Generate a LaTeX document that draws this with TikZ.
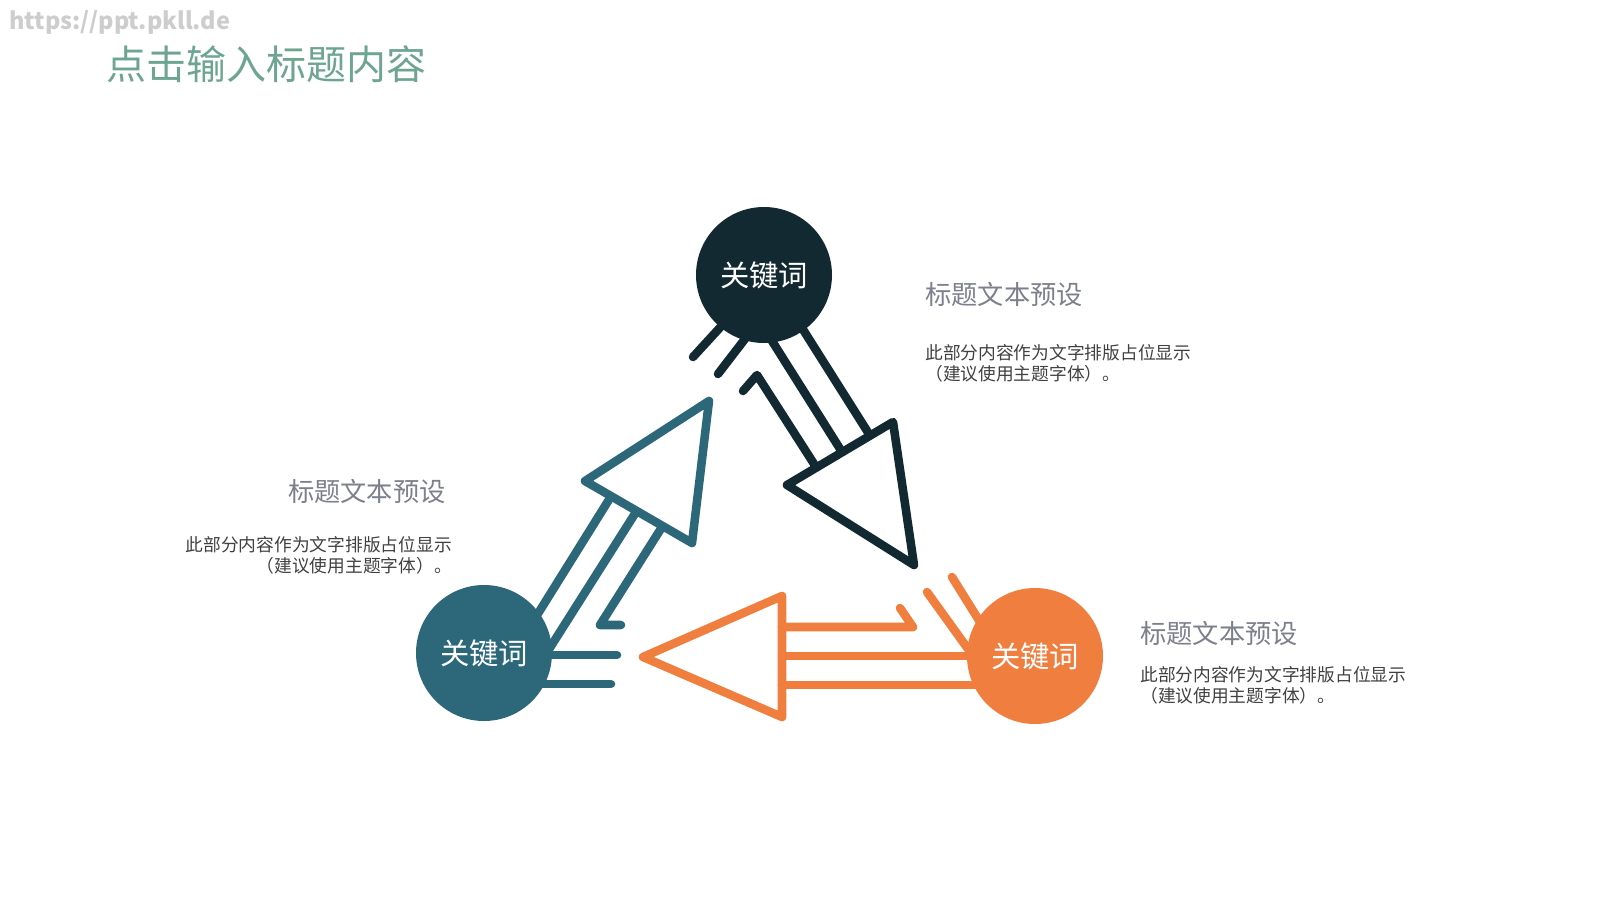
\documentclass[tikz,border=0pt]{standalone}
\usepackage{fontspec}
\newfontfamily\cjk{Noto Sans CJK SC}
\usepackage{tikz}

\begin{document}
\begin{tikzpicture}[x=0.75pt,y=0.75pt,yscale=-1,xscale=1,
  arrln/.style={line width=6.4pt, line cap=round, line join=round},
  kwd/.style={circle, inner sep=0pt, minimum size=102pt, text=white, font={\cjk\fontsize{22}{26}\selectfont}},
  headtxt/.style={inner sep=0pt, text={rgb, 255:red, 125; green, 128; blue, 140 }, font={\cjk\fontsize{19.7}{24}\selectfont}},
  bodytxt/.style={inner sep=0pt, text={rgb, 255:red, 64; green, 64; blue, 64 }, font={\cjk\fontsize{13.3}{15.8}\selectfont}}
]
\useasboundingbox (0,0) rectangle (1600,900);

%Dark arrow, top circle to the right
\draw [arrln, color={rgb, 255:red, 19; green, 41; blue, 50 }] (893,422) -- (914,565) -- (787,485) -- cycle ;
\draw [arrln, color={rgb, 255:red, 19; green, 41; blue, 50 }] (797,320) -- (869,434) ;
\draw [arrln, color={rgb, 255:red, 19; green, 41; blue, 50 }] (767,333) -- (842,452) ;
\draw [arrln, color={rgb, 255:red, 19; green, 41; blue, 50 }] (743,391) -- (757,375) -- (816,467) ;
%stubs
\draw [arrln, color={rgb, 255:red, 19; green, 41; blue, 50 }] (693,357) -- (727,320) ;
\draw [arrln, color={rgb, 255:red, 19; green, 41; blue, 50 }] (718,374) -- (748,335) ;

%Teal arrow, bottom left circle upwards
\draw [arrln, color={rgb, 255:red, 44; green, 104; blue, 122 }] (709,401) -- (585,481) -- (692,543) -- cycle ;
\draw [arrln, color={rgb, 255:red, 44; green, 104; blue, 122 }] (534,620) -- (610,498) ;
\draw [arrln, color={rgb, 255:red, 44; green, 104; blue, 122 }] (546,654) -- (636,512) ;
\draw [arrln, color={rgb, 255:red, 44; green, 104; blue, 122 }] (621,625) -- (600,625) -- (662,527) ;
%stubs
\draw [arrln, color={rgb, 255:red, 44; green, 104; blue, 122 }] (540,655) -- (617,655) ;
\draw [arrln, color={rgb, 255:red, 44; green, 104; blue, 122 }] (530,684) -- (611,684) ;

%Orange arrow, bottom right circle to the left
\draw [arrln, color={rgb, 255:red, 240; green, 126; blue, 62 }] (782,596) -- (643,657) -- (782,717) -- cycle ;
\draw [arrln, color={rgb, 255:red, 240; green, 126; blue, 62 }] (900,608) -- (913,627) -- (782,627) ;
\draw [arrln, color={rgb, 255:red, 240; green, 126; blue, 62 }] (985,656) -- (782,656) ;
\draw [arrln, color={rgb, 255:red, 240; green, 126; blue, 62 }] (990,685) -- (782,685) ;
%stubs
\draw [arrln, color={rgb, 255:red, 240; green, 126; blue, 62 }] (927,592) -- (976,660) ;
\draw [arrln, color={rgb, 255:red, 240; green, 126; blue, 62 }] (952,577) -- (985,630) ;

%Circles
\node (kwtop) [kwd, fill={rgb, 255:red, 19; green, 41; blue, 50 }] at (764,275) {关键词};
\node (kwleft) [kwd, fill={rgb, 255:red, 44; green, 104; blue, 122 }] at (484,653) {关键词};
\node (kwright) [kwd, fill={rgb, 255:red, 240; green, 126; blue, 62 }] at (1035,656) {关键词};

% Text Node
\node (wmark) [anchor=west, inner sep=0pt, text={rgb, 255:red, 205; green, 205; blue, 205 }, font={\cjk\bfseries\fontsize{17.6}{21}\selectfont}] at (9,22) {https://ppt.pkll.de};
% Text Node
\node (title) [anchor=west, inner sep=0pt, text={rgb, 255:red, 110; green, 165; blue, 145 }, font={\cjk\fontsize{30}{36}\selectfont}] at (106,64) {点击输入标题内容};

% Text Node
\node (headtop) [headtxt, anchor=west] at (925,294) {标题文本预设};
% Text Node
\node (bodytop) [bodytxt, anchor=west, align=left] at (925,363) {此部分内容作为文字排版占位显示\\（建议使用主题字体）。};
% Text Node
\node (headleft) [headtxt, anchor=east] at (446,491) {标题文本预设};
% Text Node
\node (bodyleft) [bodytxt, anchor=east, align=right] at (452,555) {此部分内容作为文字排版占位显示\\（建议使用主题字体）。};
% Text Node
\node (headright) [headtxt, anchor=west] at (1140,633) {标题文本预设};
% Text Node
\node (bodyright) [bodytxt, anchor=west, align=left] at (1140,685) {此部分内容作为文字排版占位显示\\（建议使用主题字体）。};

\end{tikzpicture}
\end{document}
